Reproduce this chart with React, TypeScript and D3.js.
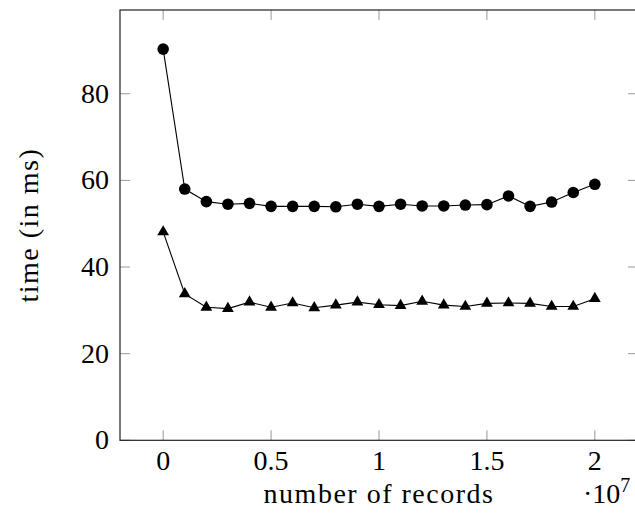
import React from "react";
import * as d3 from "d3";

const recordCounts: number[] = [
  0, 1e6, 2e6, 3e6, 4e6, 5e6, 6e6, 7e6, 8e6, 9e6, 10e6,
  11e6, 12e6, 13e6, 14e6, 15e6, 16e6, 17e6, 18e6, 19e6, 20e6,
];
const circleSeries: number[] = [
  90.3, 58.0, 55.1, 54.5, 54.7, 54.0, 54.0, 54.0, 53.9, 54.5, 54.0,
  54.5, 54.1, 54.1, 54.3, 54.4, 56.4, 54.0, 55.0, 57.2, 59.1,
];
const triangleSeries: number[] = [
  48.1, 33.8, 30.7, 30.4, 31.9, 30.7, 31.7, 30.6, 31.2, 31.9, 31.3,
  31.1, 32.1, 31.2, 30.9, 31.6, 31.7, 31.6, 30.9, 30.9, 32.7,
];
const xTicks: number[] = [0, 5e6, 1e7, 1.5e7, 2e7];
const xTickLabels: string[] = ["0", "0.5", "1", "1.5", "2"];
const yTicks: number[] = [0, 20, 40, 60, 80];
const yTickLabels: string[] = ["0", "20", "40", "60", "80"];

const W = 635;
const H = 513;
const left = 120;
const right = 638;
const top = 10;
const bottom = 440.3;
const FONT = "'Liberation Serif', 'Times New Roman', serif";
const FS = 28;
const LS = 1.5;

export default function App() {
  const x = d3.scaleLinear().domain([-2e6, 2.2e7]).range([left, right]);
  const y = d3.scaleLinear().domain([0, 99.33]).range([bottom, top]);
  const line = d3
    .line<number>()
    .x((_, i) => x(recordCounts[i]))
    .y((d) => y(d));
  const tri = d3.symbol().type(d3.symbolTriangle).size(60)();
  const tickLen = 10;

  return (
    <svg
      width={W}
      height={H}
      style={{ position: "absolute", left: 0, top: 0, background: "#fff" }}
    >
      {/* ticks */}
      {xTicks.map((t) => (
        <g key={"xt" + t} stroke="#999" strokeWidth={1}>
          <line x1={x(t)} x2={x(t)} y1={bottom} y2={bottom - tickLen} />
          <line x1={x(t)} x2={x(t)} y1={top} y2={top + tickLen} />
        </g>
      ))}
      {yTicks.map((t) => (
        <g key={"yt" + t} stroke="#999" strokeWidth={1}>
          <line x1={left} x2={left + tickLen} y1={y(t)} y2={y(t)} />
          <line x1={right} x2={right - tickLen} y1={y(t)} y2={y(t)} />
        </g>
      ))}
      {/* frame */}
      <rect
        x={left}
        y={top}
        width={right - left}
        height={bottom - top}
        fill="none"
        stroke="#222"
        strokeWidth={1.2}
      />
      {/* series */}
      <path d={line(circleSeries) || ""} fill="none" stroke="#000" strokeWidth={1.1} />
      <path d={line(triangleSeries) || ""} fill="none" stroke="#000" strokeWidth={1.1} />
      {circleSeries.map((v, i) => (
        <circle key={"c" + i} cx={x(recordCounts[i])} cy={y(v)} r={5.8} fill="#000" />
      ))}
      {triangleSeries.map((v, i) => (
        <path
          key={"t" + i}
          d={tri || ""}
          transform={`translate(${x(recordCounts[i])},${y(v)})`}
          fill="#000"
        />
      ))}
      {/* tick labels */}
      {xTicks.map((t, i) => (
        <text
          key={"xl" + t}
          x={x(t)}
          y={470}
          textAnchor="middle"
          fontFamily={FONT}
          fontSize={FS}
          fill="#000"
        >
          {xTickLabels[i]}
        </text>
      ))}
      {yTicks.map((t, i) => (
        <text
          key={"yl" + t}
          x={109}
          y={y(t) + 9}
          textAnchor="end"
          fontFamily={FONT}
          fontSize={FS}
          fill="#000"
        >
          {yTickLabels[i]}
        </text>
      ))}
      {/* axis labels */}
      <text
        x={(left + right) / 2}
        y={503}
        textAnchor="middle"
        fontFamily={FONT}
        fontSize={FS}
        letterSpacing={LS}
        fill="#000"
      >
        number of records
      </text>
      <text x={583} y={503} fontFamily={FONT} fontSize={FS} fill="#000">
        ·10
        <tspan fontSize={20} dy={-11}>
          7
        </tspan>
      </text>
      <text
        transform={`translate(38,${(top + bottom) / 2}) rotate(-90)`}
        textAnchor="middle"
        fontFamily={FONT}
        fontSize={FS}
        letterSpacing={LS}
        fill="#000"
      >
        time (in ms)
      </text>
    </svg>
  );
}
